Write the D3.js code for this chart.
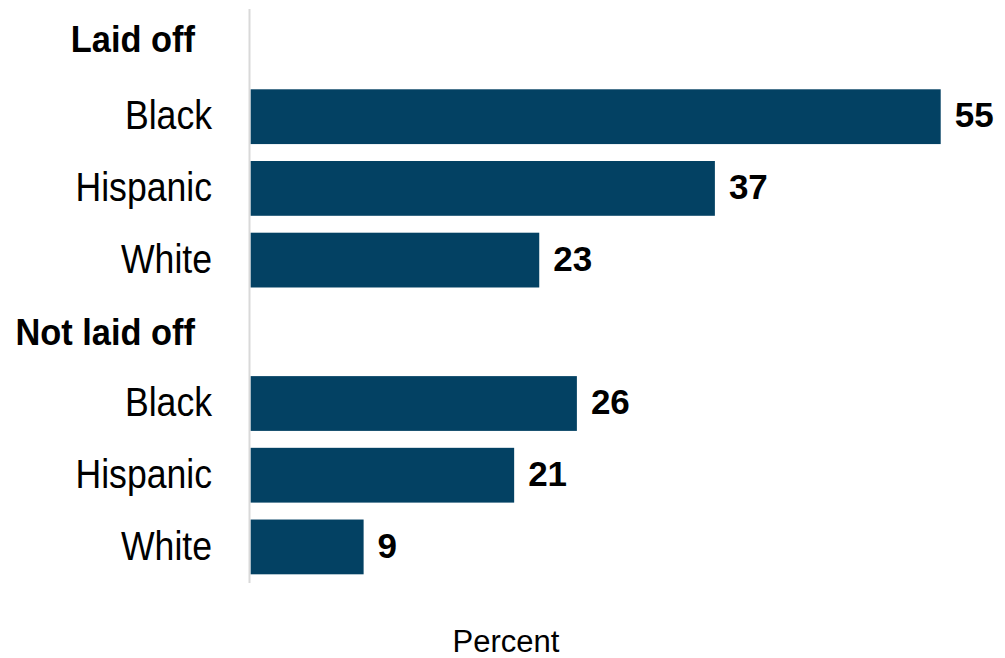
<!DOCTYPE html>
<html><head><meta charset="utf-8">
<script src="https://cdn.jsdelivr.net/npm/d3@7"></script>
<style>body{margin:0;background:#fff}</style>
</head><body>
<svg id="c" width="1005" height="658"></svg>
<script>
const rows = ["Laid off","Black","Hispanic","White","Not laid off","Black ","Hispanic ","White "];
const isHeader = [true,false,false,false,true,false,false,false];
const values = [null,55,37,23,null,26,21,9];
const axisTitle = "Percent";

const svg = d3.select("#c");
const x = d3.scaleLinear().domain([0,55]).range([250.7,940.7]);
const y = d3.scaleBand().domain(rows).range([9.2,582.7]).paddingInner(0.236).paddingOuter(0.117);

svg.append("line").attr("x1",249.5).attr("x2",249.5).attr("y1",9).attr("y2",583)
  .attr("stroke","#d9d9d9").attr("stroke-width",2);

const data = rows.map((r,i)=>({r,i,h:isHeader[i],v:values[i]}));
const mid = d => y(d.r)+y.bandwidth()/2;

svg.selectAll("rect.bar").data(data.filter(d=>!d.h)).join("rect")
  .attr("class","bar").attr("x",x(0)).attr("y",d=>y(d.r)).attr("height",y.bandwidth())
  .attr("width",d=>x(d.v)-x(0)).attr("fill","#034163");

svg.selectAll("text.val").data(data.filter(d=>!d.h)).join("text")
  .attr("class","val").attr("x",d=>x(d.v)+14).attr("y",d=>mid(d)+10.6)
  .attr("font-family","'Liberation Sans',Arial,sans-serif")
  .attr("font-weight","bold").attr("font-size",35).attr("fill","#000").text(d=>d.v);

// category labels (condensed)
svg.selectAll("text.cat").data(data.filter(d=>!d.h)).join("text")
  .attr("class","cat")
  .attr("transform",d=>`translate(212,${mid(d)+12.7}) scale(0.89,1)`)
  .attr("text-anchor","end")
  .attr("font-family","'Liberation Sans',Arial,sans-serif")
  .attr("font-size",40).attr("fill","#000").text(d=>d.r.trim());

// group headers
svg.selectAll("text.hdr").data(data.filter(d=>d.h)).join("text")
  .attr("class","hdr")
  .attr("transform",d=>`translate(195,${mid(d)+(d.i===0?7.3:13.2)}) scale(0.93,1)`)
  .attr("text-anchor","end")
  .attr("font-family","'Liberation Sans',Arial,sans-serif")
  .attr("font-weight","bold")
  .attr("font-size",37).attr("fill","#000").text(d=>d.r);

svg.append("text").attr("x",506).attr("y",652).attr("text-anchor","middle")
  .attr("font-family","'Liberation Sans',Arial,sans-serif").attr("font-size",31)
  .attr("fill","#000").text(axisTitle);
</script>
</body></html>
